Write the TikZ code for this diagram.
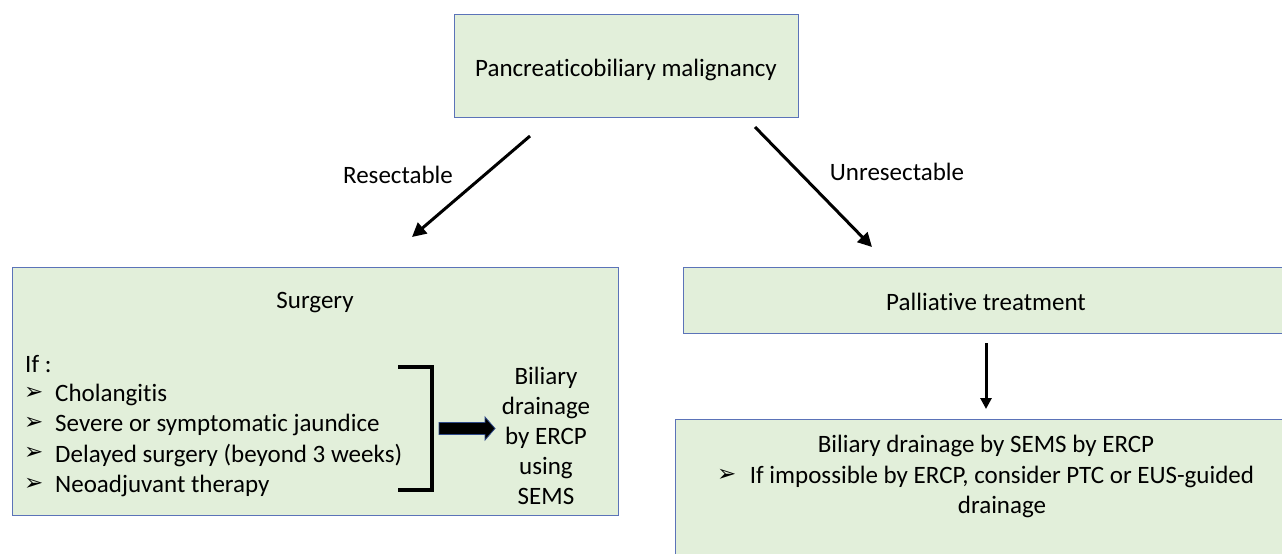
\documentclass[tikz,border=0pt]{standalone}
\usepackage{fontspec}
\setmainfont{Carlito}[Ligatures=NoCommon]
\newfontfamily\symfont{DejaVu Sans}
\usetikzlibrary{arrows.meta}
\definecolor{boxfill}{HTML}{E2EFDA}
\definecolor{boxline}{HTML}{5B73B8}
\definecolor{navyline}{HTML}{2F4A8A}
\newcommand{\bul}{{\symfont\fontsize{23}{24}\selectfont ➢}}
\tikzset{
  box/.style={draw=boxline, fill=boxfill, line width=1pt, inner sep=0pt},
  txt/.style={font=\fontsize{25}{30}\selectfont, inner sep=0pt},
  bultxt/.style={inner sep=0pt},
  arr/.style={line width=3pt, -{Triangle[length=14pt,width=14pt]}},
}
\begin{document}
\begin{tikzpicture}[x=1pt,y=-1pt]
\useasboundingbox (0,0) rectangle (1282,554);
\clip (0,0) rectangle (1282,554);
\fill[white] (0,0) rectangle (1282,554);

% boxes
\node[box, minimum width=344pt, minimum height=103pt] (top) at (626,65.5) {};
\node[box, minimum width=606pt, minimum height=248pt] (left) at (315,391) {};
\node[box, minimum width=601pt, minimum height=66pt] (pal) at (983.5,300) {};
\node[box, minimum width=615pt, minimum height=141pt] (bil) at (982.5,489.5) {};

% texts
\node[txt] (ttop) at (626,70) {Pancreaticobiliary malignancy};
\node[txt] (tsurg) at (315,303) {Surgery};
\node[txt, anchor=west] (tif) at (25,364) {If :};
\node[bultxt, anchor=west] (b1) at (24,393) {\bul};
\node[txt, anchor=west] (l1) at (55,395) {Cholangitis};
\node[bultxt, anchor=west] (b2) at (24,423) {\bul};
\node[txt, anchor=west] (l2) at (55,425) {Severe or symptomatic jaundice};
\node[bultxt, anchor=west] (b3) at (24,453) {\bul};
\node[txt, anchor=west] (l3) at (55,455) {Delayed surgery (beyond 3 weeks)};
\node[bultxt, anchor=west] (b4) at (24,484) {\bul};
\node[txt, anchor=west] (l4) at (55,486) {Neoadjuvant therapy};
\node[txt, align=center] (tbil) at (546,436) {Biliary\\drainage\\by ERCP\\using\\SEMS};

\node[txt] (tpal) at (986,302) {Palliative treatment};
\node[txt] (tb1) at (986,446) {Biliary drainage by SEMS by ERCP};
\node[bultxt, anchor=west] (b5) at (717,475) {\bul};
\node[txt, align=center] (tb2) at (1002,492) {If impossible by ERCP, consider PTC or EUS-guided\\drainage};

% connectors
\coordinate (r1) at (530,136);
\coordinate (r2) at (412,237);
\coordinate (u1) at (755,127);
\coordinate (u2) at (872,247);
\coordinate (d1) at (986,343);
\coordinate (d2) at (986,409);
\draw[arr] (r1) -- (r2);
\draw[arr] (u1) -- (u2);
\draw[line width=3pt, -{Triangle[length=11pt,width=11pt]}] (d1) -- (d2);
\node[txt] (lres) at (398,175) {Resectable};
\node[txt] (lunr) at (897,172) {Unresectable};

% bracket
\draw[line width=4pt] (398,367) -| (432,490) -- (398,490);

% block arrow
\draw[fill=black, draw=navyline, line width=0.8pt]
  (439,422.5) -- (485,422.5) -- (485,417) -- (495,428.5) -- (485,440) -- (485,434.5) -- (439,434.5) -- cycle;
\end{tikzpicture}
\end{document}
